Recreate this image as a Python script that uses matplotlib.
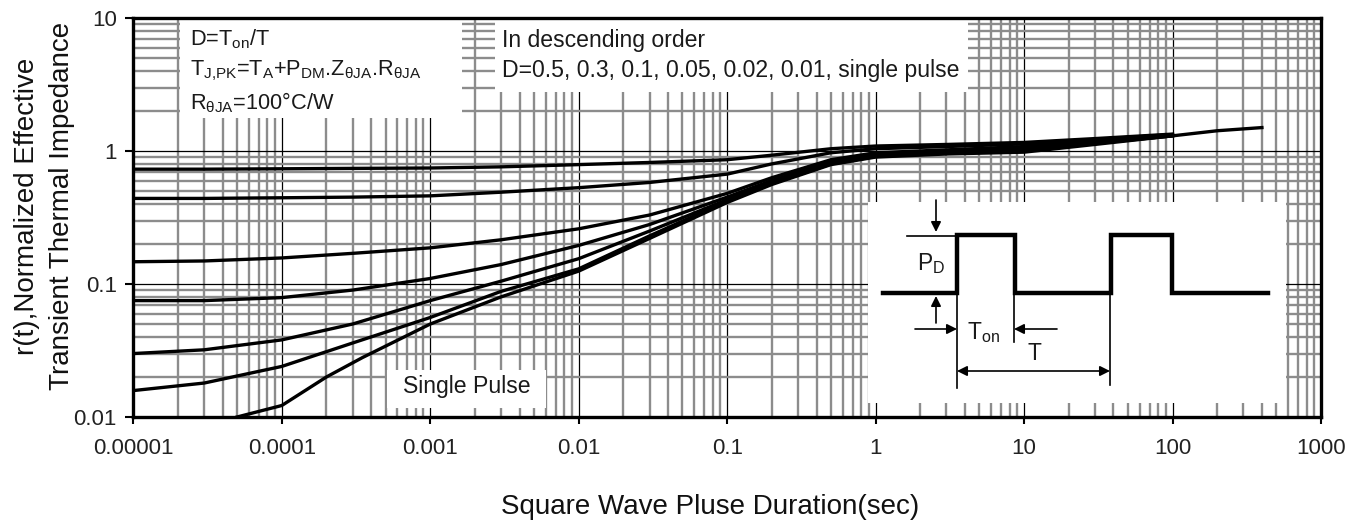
import matplotlib
matplotlib.use("Agg")
import matplotlib.pyplot as plt
from matplotlib.patches import Rectangle
from matplotlib.ticker import LogLocator, NullFormatter, FixedLocator

plt.rcParams['font.family'] = ['Liberation Sans', 'DejaVu Sans']
plt.rcParams['mathtext.fontset'] = 'custom'
plt.rcParams['mathtext.rm'] = 'Liberation Sans'
plt.rcParams['mathtext.it'] = 'Liberation Sans'

# ---------------- data ----------------
x_d = [1e-5, 3e-5, 1e-4, 3e-4, 1e-3, 3e-3, 1e-2, 3e-2, 0.1, 0.2, 0.5, 1, 3, 10, 30, 100]
d050 = [0.73, 0.73, 0.735, 0.74, 0.745, 0.76, 0.79, 0.82, 0.86, 0.93, 1.04, 1.09, 1.12, 1.16, 1.24, 1.34]
d030 = [0.44, 0.44, 0.445, 0.45, 0.46, 0.49, 0.53, 0.58, 0.67, 0.80, 0.97, 1.04, 1.08, 1.13, 1.22, 1.33]
d010 = [0.147, 0.149, 0.157, 0.17, 0.187, 0.215, 0.26, 0.33, 0.48, 0.63, 0.86, 0.97, 1.02, 1.08, 1.19, 1.32]
d005 = [0.075, 0.075, 0.079, 0.09, 0.11, 0.14, 0.195, 0.28, 0.45, 0.60, 0.83, 0.94, 0.99, 1.05, 1.17, 1.31]
d002 = [0.030, 0.032, 0.038, 0.05, 0.075, 0.105, 0.155, 0.25, 0.43, 0.58, 0.81, 0.92, 0.97, 1.02, 1.15, 1.30]
d001 = [0.0158, 0.018, 0.024, 0.036, 0.056, 0.088, 0.13, 0.23, 0.42, 0.57, 0.80, 0.91, 0.96, 1.00, 1.14, 1.30]
x_sp = [5e-5, 1e-4, 2e-4, 3.5e-4, 1e-3, 3e-3, 1e-2, 3e-2, 0.1, 0.2, 0.5, 1, 3, 10, 30, 100, 200, 400]
single = [0.01, 0.0122, 0.02, 0.028, 0.05, 0.08, 0.125, 0.22, 0.41, 0.56, 0.79, 0.90, 0.95, 0.98, 1.12, 1.30, 1.42, 1.50]

x_ticks = [1e-5, 1e-4, 1e-3, 1e-2, 1e-1, 1, 10, 100, 1000]
x_labels = ['0.00001', '0.0001', '0.001', '0.01', '0.1', '1', '10', '100', '1000']
y_ticks = [0.01, 0.1, 1, 10]
y_labels = ['0.01', '0.1', '1', '10']

# inset pulse diagram (in inset pixel units)
pulse_x = [883, 957, 957, 1015, 1015, 1111, 1111, 1172, 1172, 1268]
pulse_y = [293, 293, 235, 235, 293, 293, 235, 235, 293, 293]

# ---------------- figure ----------------
fig = plt.figure(figsize=(13.63, 5.24), dpi=100)
AX_L, AX_R, AX_T, AX_B = 133.3, 1321.0, 18.0, 417.0
ax = fig.add_axes([AX_L/1363, 1-AX_B/524, (AX_R-AX_L)/1363, (AX_B-AX_T)/524])
ax.set_xscale('log')
ax.set_yscale('log')
ax.set_xlim(1e-5, 1000)
ax.set_ylim(0.01, 10)

ax.xaxis.set_major_locator(FixedLocator(x_ticks))
ax.set_xticklabels(x_labels)
ax.yaxis.set_major_locator(FixedLocator(y_ticks))
ax.set_yticklabels(y_labels)
ax.xaxis.set_minor_locator(LogLocator(base=10, subs=range(2, 10), numticks=100))
ax.yaxis.set_minor_locator(LogLocator(base=10, subs=range(2, 10), numticks=100))
ax.xaxis.set_minor_formatter(NullFormatter())
ax.yaxis.set_minor_formatter(NullFormatter())

ax.set_axisbelow(True)
ax.grid(which='minor', color='#8c8c8c', lw=1.7)
ax.grid(which='major', color='black', lw=0.9)
ax.tick_params(which='major', direction='out', length=5, width=1.5, color='black',
               labelsize=16, labelcolor='#222222')
ax.tick_params(axis='x', which='major', pad=10)
ax.tick_params(axis='y', which='major', pad=6, length=6)
ax.tick_params(which='minor', length=0)
for s in ax.spines.values():
    s.set_linewidth(2.4)
    s.set_color('black')

W = AX_R - AX_L
H = AX_B - AX_T
def axfrac(px, py):
    return ((px-AX_L)/W, (AX_B-py)/H)

ax.set_xlabel('Square Wave Pluse Duration(sec)', fontsize=20, color='#111111')
ax.xaxis.set_label_coords(*axfrac(710, 507))
ax.xaxis.label.set_va('center')
ax.set_ylabel('r(t),Normalized Effective\nTransient Thermal Impedance', fontsize=20,
              color='#111111', linespacing=1.45)
ax.yaxis.set_label_coords(*axfrac(44.5, 206))
ax.yaxis.label.set_va('center')

# white boxes (layout)
boxes = [(180, 19, 462, 118), (495, 19, 968, 92), (387, 370, 546, 408)]
for (x0, y0, x1, y1) in boxes:
    ax.add_patch(Rectangle(((x0-AX_L)/W, (AX_B-y1)/H), (x1-x0)/W, (y1-y0)/H,
                           transform=ax.transAxes, facecolor='white', edgecolor='none', zorder=1))

# curves
for yv in [d050, d030, d010, d005, d002, d001]:
    ax.plot(x_d, yv, color='black', lw=2.4, zorder=3, solid_joinstyle='round')
ax.plot(x_sp, single, color='black', lw=2.4, zorder=3, solid_joinstyle='round')

txt1 = dict(transform=ax.transAxes, fontsize=15.7, color='#1a1a1a', va='center', ha='left', zorder=4)
txt2 = dict(transform=ax.transAxes, fontsize=16.6, color='#1a1a1a', va='center', ha='left', zorder=4)
ax.text(*axfrac(190, 39), r'D=T$_{\mathregular{on}}$/T', **txt1)
ax.text(*axfrac(190, 71), r'T$_{\mathregular{J{,}PK}}$=T$_{\mathregular{A}}$+P$_{\mathregular{DM}}$.Z$_{\mathregular{θJA}}$.R$_{\mathregular{θJA}}$', **txt1)
ax.text(*axfrac(190, 103), r'R$_{\mathregular{θJA}}$=100°C/W', **txt1)
ax.text(*axfrac(502, 40), 'In descending order', **txt2)
ax.text(*axfrac(502, 70), 'D=0.5, 0.3, 0.1, 0.05, 0.02, 0.01, single pulse', **txt2)
ax.text(*axfrac(403, 386), 'Single Pulse', **txt2)

# inset
ins = fig.add_axes([868/1363, 1-403/524, 418/1363, 201/524])
ins.set_xlim(868, 1286)
ins.set_ylim(403, 202)
ins.set_facecolor('white')
ins.set_xticks([]); ins.set_yticks([])
for s in ins.spines.values():
    s.set_visible(False)
ins.plot(pulse_x, pulse_y, color='black', lw=3.2, solid_joinstyle='miter')
thin = dict(color='black', lw=1.2)
ins.plot([907, 957], [236, 236], **thin)
ins.plot([957, 957], [293, 388], **thin)
ins.plot([1014, 1014], [293, 342], **thin)
ins.plot([1110, 1110], [293, 385], **thin)
ap = dict(arrowstyle='-|>', color='black', lw=1.2, mutation_scale=15, shrinkA=0, shrinkB=0)
ins.annotate('', xy=(936, 232), xytext=(936, 200), arrowprops=ap)
ins.annotate('', xy=(936, 296), xytext=(936, 323), arrowprops=ap)
ins.annotate('', xy=(957, 329), xytext=(915, 329), arrowprops=ap)
ins.annotate('', xy=(1014, 329), xytext=(1057, 329), arrowprops=ap)
ap2 = dict(arrowstyle='<|-|>', color='black', lw=1.2, mutation_scale=15, shrinkA=0, shrinkB=0)
ins.annotate('', xy=(957, 371), xytext=(1110, 371), arrowprops=ap2)
ins.text(917, 264, r'P$_{\mathregular{D}}$', fontsize=16.5, va='center', ha='left', color='#1a1a1a')
ins.text(967, 333, r'T$_{\mathregular{on}}$', fontsize=16.5, va='center', ha='left', color='#1a1a1a')
ins.text(1027, 354, 'T', fontsize=16.5, va='center', ha='left', color='#1a1a1a')

fig.savefig('out.png', dpi=100)
